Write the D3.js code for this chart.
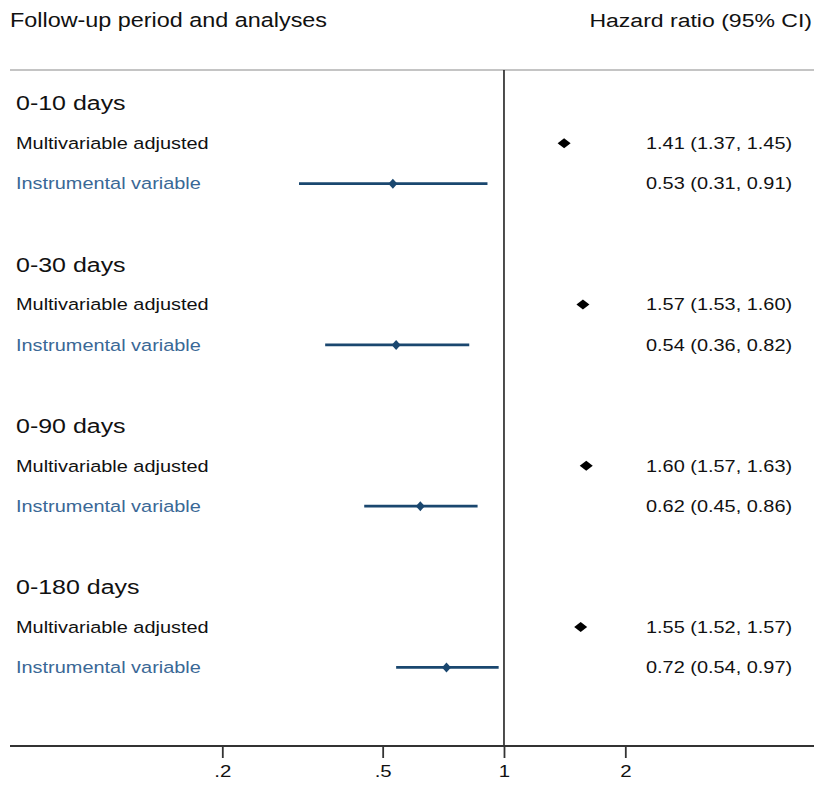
<!DOCTYPE html>
<html>
<head>
<meta charset="utf-8">
<script src="https://cdn.jsdelivr.net/npm/d3@7"></script>
<style>
  body { margin: 0; background: #fff; }
  svg { display: block; font-family: "Liberation Sans", Arial, sans-serif; }
</style>
</head>
<body>
<svg id="sg"></svg>
<script>
// forest plot data
let groups = ["0-10 days", "0-30 days", "0-90 days", "0-180 days"];
let analyses = ["Multivariable adjusted", "Instrumental variable"];
let maEst = [1.41, 1.57, 1.60, 1.55];
let maLo = [1.37, 1.53, 1.57, 1.52];
let maHi = [1.45, 1.60, 1.63, 1.57];
let ivEst = [0.53, 0.54, 0.62, 0.72];
let ivLo = [0.31, 0.36, 0.45, 0.54];
let ivHi = [0.91, 0.82, 0.86, 0.97];
let tickValues = [0.2, 0.5, 1, 2];
let tickLabels = [".2", ".5", "1", "2"];

let svgWidth = 814,
  svgHeight = 786;
let sx = 1.2; // glyphs in the original are a bit wide
let navy = "#1a476f";
let blueText = "#3a6896";

let svg = d3.select("#sg").attr("width", svgWidth).attr("height", svgHeight);

let x = d3.scaleLog().domain([0.2, 2]).range([222.3, 625.3]);
let y = d3.scaleLinear().domain([0, 16]).range([103, 748]);
let axisY = 746;

function stretchText(px, py, str, size, color, anchor) {
  return svg
    .append("text")
    .attr("transform", "translate(" + px + "," + py + ") scale(" + sx + ",1)")
    .attr("font-size", size)
    .attr("fill", color)
    .attr("text-anchor", anchor || "start")
    .attr("dy", "0.35em")
    .text(str);
}

// headers
stretchText(10, 20, "Follow-up period and analyses", 19.5, "#111");
stretchText(812, 20, "Hazard ratio (95% CI)", 19.2, "#111", "end");

svg.append("line")
  .attr("x1", 10).attr("x2", svgWidth)
  .attr("y1", 70).attr("y2", 70)
  .attr("stroke", "#c4c4c4")
  .attr("stroke-width", 2);

// reference line at HR = 1
svg.append("line")
  .attr("x1", x(1)).attr("x2", x(1))
  .attr("y1", 70).attr("y2", axisY)
  .attr("stroke", "#222")
  .attr("stroke-width", 1.6);

// rows
let fmt = d3.format(".2f");
groups.forEach(function(g, i) {
  let r0 = i * 4;
  stretchText(16, y(r0), g, 20.8, "#111");

  // multivariable adjusted
  let yMa = y(r0 + 1);
  stretchText(16, yMa, analyses[0], 16.6, "#111");
  svg.append("line")
    .attr("x1", x(maLo[i])).attr("x2", x(maHi[i]))
    .attr("y1", yMa).attr("y2", yMa)
    .attr("stroke", "#000").attr("stroke-width", 2);
  svg.append("path")
    .attr("d", "M0,-5L6.5,0L0,5L-6.5,0Z")
    .attr("transform", "translate(" + x(maEst[i]) + "," + yMa + ")")
    .attr("fill", "#000");
  stretchText(646, yMa, fmt(maEst[i]) + " (" + fmt(maLo[i]) + ", " + fmt(maHi[i]) + ")", 16.6, "#111");

  // instrumental variable
  let yIv = y(r0 + 2);
  stretchText(16, yIv, analyses[1], 16.6, blueText);
  svg.append("line")
    .attr("x1", x(ivLo[i])).attr("x2", x(ivHi[i]))
    .attr("y1", yIv).attr("y2", yIv)
    .attr("stroke", navy).attr("stroke-width", 2.7);
  svg.append("path")
    .attr("d", "M0,-5L4.5,0L0,5L-4.5,0Z")
    .attr("transform", "translate(" + x(ivEst[i]) + "," + yIv + ")")
    .attr("fill", navy);
  stretchText(646, yIv, fmt(ivEst[i]) + " (" + fmt(ivLo[i]) + ", " + fmt(ivHi[i]) + ")", 16.6, "#111");
});

// x axis
let xAxis = d3.axisBottom(x)
  .tickValues(tickValues)
  .tickFormat(function(d, i) { return tickLabels[i]; })
  .tickSize(12)
  .tickPadding(7);

let gx = svg.append("g")
  .attr("transform", "translate(0," + axisY + ")")
  .call(xAxis);
gx.select(".domain").remove();
gx.selectAll(".tick line").attr("stroke", "#333").attr("stroke-width", 1.8);
gx.selectAll(".tick text")
  .attr("font-size", 17)
  .attr("fill", "#111")
  .attr("font-family", "Liberation Sans, Arial, sans-serif")
  .attr("transform", "scale(" + sx + ",1)");

svg.append("line")
  .attr("x1", 10).attr("x2", svgWidth)
  .attr("y1", axisY).attr("y2", axisY)
  .attr("stroke", "#333")
  .attr("stroke-width", 2);
</script>
</body>
</html>
